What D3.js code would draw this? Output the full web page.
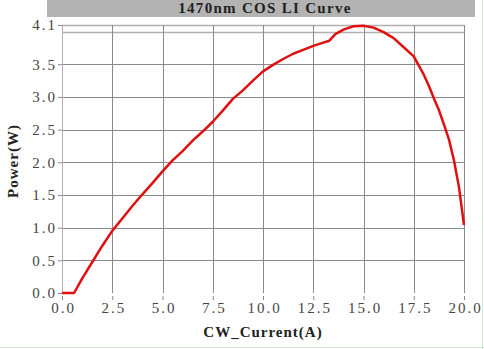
<!DOCTYPE html>
<html>
<head>
<meta charset="utf-8">
<script src="https://cdn.jsdelivr.net/npm/d3@7"></script>
<style>
	body { margin: 0; background: #fff; }
	svg text { font-family: "Liberation Serif", serif; }
</style>
</head>
<body>
<div id="chart"></div>
<script>
const W = 484, H = 349;
const margin = { top: 25, right: 20, bottom: 56, left: 62 };

const titleText = "1470nm COS LI Curve";
const xLabel = "CW_Current(A)";
const yLabel = "Power(W)";

const current = [0, 0.6, 1.0, 1.5, 2.0, 2.5, 3.0, 3.5, 4.0, 4.5, 5.0, 5.5, 6.0, 6.5, 7.0, 7.5,
	8.0, 8.5, 9.0, 9.5, 10.0, 10.5, 11.0, 11.5, 12.0, 12.5, 13.0, 13.3, 13.6, 14.0, 14.5,
	15.0, 15.5, 16.0, 16.5, 17.0, 17.5, 18.0, 18.25, 18.5, 18.75, 19.0, 19.25, 19.5, 19.75, 20.0];
const power = [0, 0, 0.22, 0.47, 0.72, 0.95, 1.14, 1.33, 1.51, 1.68, 1.86, 2.03, 2.17, 2.33, 2.47, 2.62,
	2.79, 2.97, 3.10, 3.25, 3.39, 3.49, 3.58, 3.66, 3.72, 3.78, 3.83, 3.86, 3.96, 4.03, 4.08,
	4.09, 4.06, 3.99, 3.90, 3.76, 3.62, 3.34, 3.17, 2.98, 2.80, 2.58, 2.35, 2.03, 1.62, 1.04];

const xTicks = [0, 2.5, 5, 7.5, 10, 12.5, 15, 17.5, 20];
const yTicks = [0, 0.5, 1.0, 1.5, 2.0, 2.5, 3.0, 3.5, 4.1];
const yGrid = [0.5, 1.0, 1.5, 2.0, 2.5, 3.0, 3.5, 4.0, 4.1];

const data = current.map((c, i) => ({ x: c, y: power[i] }));

const svg = d3.select("#chart").append("svg")
	.attr("width", W)
	.attr("height", H);

const x = d3.scaleLinear().domain([0, 20]).range([margin.left, W - margin.right]);
const y = d3.scaleLinear().domain([0, 4.1]).range([H - margin.bottom, margin.top]);

// title bar
svg.append("rect")
	.attr("x", 47).attr("y", 0)
	.attr("width", 428).attr("height", 17)
	.attr("fill", "#b3b3b3");

svg.append("text")
	.attr("x", 265).attr("y", 13)
	.attr("text-anchor", "middle")
	.attr("font-size", "15px")
	.attr("font-weight", "bold")
	.attr("letter-spacing", "1.3px")
	.attr("fill", "#222")
	.text(titleText);

// grid
svg.append("g")
	.selectAll("line")
	.data(yGrid)
	.join("line")
	.attr("x1", x(0)).attr("x2", x(20))
	.attr("y1", d => Math.round(y(d)) + 0.5).attr("y2", d => Math.round(y(d)) + 0.5)
	.attr("stroke", d => d >= 4 ? "#b0b0b0" : "#8a8a8a")
	.attr("stroke-width", d => d >= 4 ? 1.6 : 1);

svg.append("g")
	.selectAll("line")
	.data(xTicks)
	.join("line")
	.attr("x1", d => Math.round(x(d)) + 0.5).attr("x2", d => Math.round(x(d)) + 0.5)
	.attr("y1", y(4.1)).attr("y2", y(0))
	.attr("stroke", d => d === 0 ? "#b0b0b0" : "#8a8a8a")
	.attr("stroke-width", 1);

// y axis ticks
const yAxis = svg.append("g")
	.attr("transform", `translate(${x(0)},0)`)
	.call(d3.axisLeft(y).tickValues(yTicks).tickFormat(d3.format(".1f")).tickSize(4).tickPadding(1))
	.call(g => g.select(".domain").remove());
yAxis.selectAll(".tick line").attr("stroke", "#888");
yAxis.selectAll("text")
	.attr("font-size", "15px")
	.attr("letter-spacing", "2px")
	.attr("fill", "#444")
	.attr("font-family", "Liberation Serif, serif");

// x axis ticks
const xAxis = svg.append("g")
	.attr("transform", `translate(0,${y(0) + 3})`)
	.call(d3.axisBottom(x).tickValues(xTicks).tickFormat(d3.format(".1f")).tickSize(4).tickPadding(2))
	.call(g => g.select(".domain").remove());
xAxis.selectAll(".tick line").attr("stroke", "#888");
xAxis.selectAll("text")
	.attr("font-size", "15px")
	.attr("letter-spacing", "2px")
	.attr("dx", "1px")
	.attr("fill", "#444")
	.attr("font-family", "Liberation Serif, serif");

// axis titles
svg.append("text")
	.attr("x", 263).attr("y", 337)
	.attr("text-anchor", "middle")
	.attr("font-size", "15px")
	.attr("font-weight", "bold")
	.attr("letter-spacing", "1px")
	.attr("fill", "#222")
	.text(xLabel);

svg.append("text")
	.attr("transform", "translate(18,161) rotate(-90)")
	.attr("text-anchor", "middle")
	.attr("font-size", "15px")
	.attr("font-weight", "bold")
	.attr("letter-spacing", "1px")
	.attr("fill", "#222")
	.text(yLabel);

// the LI curve
const line = d3.line().x(d => x(d.x)).y(d => y(d.y));

svg.append("path")
	.datum(data)
	.attr("d", line)
	.attr("fill", "none")
	.attr("stroke", "#e01010")
	.attr("stroke-width", 2.5)
	.attr("stroke-linejoin", "round");

// faint frame on right and bottom
svg.append("line")
	.attr("x1", W - 1.5).attr("x2", W - 1.5).attr("y1", 0).attr("y2", H)
	.attr("stroke", "#cfe8cf").attr("stroke-width", 1);
svg.append("line")
	.attr("x1", 0).attr("x2", W).attr("y1", H - 1.5).attr("y2", H - 1.5)
	.attr("stroke", "#cfe8cf").attr("stroke-width", 1);
</script>
</body>
</html>
